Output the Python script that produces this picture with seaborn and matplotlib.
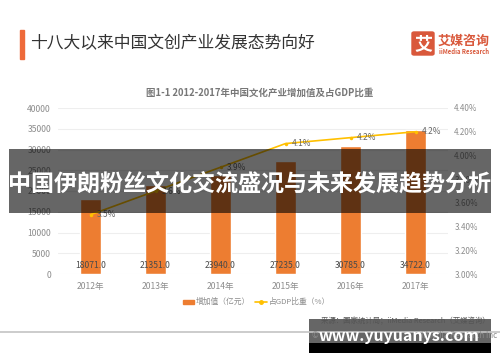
import matplotlib
matplotlib.use('Agg')
import matplotlib.pyplot as plt
import pandas as pd
import seaborn as sns
from matplotlib.patches import Rectangle, FancyBboxPatch

# ============ Dataset ============
years = ['2012年', '2013年', '2014年', '2015年', '2016年', '2017年']
added_value = [18071.0, 21351.0, 23940.0, 27235.0, 30785.0, 34722.0]
gdp_share = [3.5, 3.7, 3.9, 4.1, 4.15, 4.2]
share_labels = ['3.5%', '3.6%', '3.9%', '4.1%', '4.2%', '4.2%']
left_ticks = [0, 5000, 10000, 15000, 20000, 25000, 30000, 35000, 40000]
right_ticks = [3.0, 3.2, 3.4, 3.6, 3.8, 4.0, 4.2, 4.4]

W, H = 500, 362
BAR = '#ED7D31'
LINE = '#FFC000'
TICK = '#8c8c8c'

sns.set_theme(style='white')
plt.rcParams['font.family'] = ['Noto Sans CJK SC', 'DejaVu Sans']
plt.rcParams['axes.unicode_minus'] = False

df = pd.DataFrame({'year': years, 'value': added_value, 'share': gdp_share})

fig = plt.figure(figsize=(W / 100, H / 100), dpi=100, facecolor='white')
ax = fig.add_axes([58 / W, 1 - 274 / H, 390 / W, 166 / H])

# ============ Bars ============
sns.barplot(data=df, x='year', y='value', color=BAR, saturation=1, width=0.31, ax=ax)
ax.set_xlim(-0.5, 5.5)
ax.set_ylim(0, 40000)
ax.set_yticks(left_ticks)
ax.set_xlabel('')
ax.set_ylabel('')
ax.tick_params(axis='both', length=0, labelsize=6.2, labelcolor=TICK)
ax.tick_params(axis='x', pad=6)
ax.tick_params(axis='y', pad=5)
ax.grid(axis='y', color='#eeeeee', linewidth=0.8)
ax.set_axisbelow(True)
sns.despine(ax=ax, left=True, bottom=True)

for i, v in enumerate(added_value):
    ax.text(i, 1930, f'{v:.1f}', ha='center', va='center', fontsize=6.2, color='#4a4a4a')

# ============ Line on second axis ============
ax2 = ax.twinx()
sns.lineplot(x=list(range(len(years))), y=gdp_share, color=LINE, linewidth=1.2,
             marker='o', markersize=2.5, markeredgewidth=0, ax=ax2)
ax2.set_ylim(3.0, 4.4)
ax2.set_yticks(right_ticks)
ax2.set_yticklabels([f'{t:.2f}%' for t in right_ticks])
ax2.tick_params(axis='y', length=0, labelsize=5.8, labelcolor=TICK, pad=4.5)
ax2.grid(False)
sns.despine(ax=ax2, left=True, right=True, bottom=True)

for i, (s, lab) in enumerate(zip(gdp_share, share_labels)):
    ax2.text(i + 0.09, s, lab, ha='left', va='center', fontsize=6.0, color='#666666')

# ============ Legend ============
fig.add_artist(Rectangle((183 / W, 1 - 304 / H), 11 / W, 4 / H, color=BAR, transform=fig.transFigure))
fig.text(195.5 / W, 1 - 302 / H, '增加值（亿元）', fontsize=5.6, color=TICK, va='center')
fig.add_artist(plt.Line2D([255 / W, 261 / W, 267 / W], [1 - 302 / H] * 3, color=LINE, linewidth=1.2,
                          marker='o', markersize=2.5, markevery=[1], transform=fig.transFigure))
fig.text(268.5 / W, 1 - 302 / H, '占GDP比重（%）', fontsize=5.6, color=TICK, va='center')

# ============ Header ============
fig.add_artist(Rectangle((20 / W, 1 - 59 / H), 4 / W, 29 / H, color='#EE6A3A', transform=fig.transFigure))
fig.text(30.5 / W, 1 - 43.5 / H, '十八大以来中国文创产业发展态势向好', fontsize=12.1, color='#333333', va='center')
fig.text(260 / W, 1 - 93 / H, '图1-1 2012-2017年中国文化产业增加值及占GDP比重', fontsize=6.8,
         color='#777777', ha='center', va='center', fontweight='bold')

fig.add_artist(FancyBboxPatch((412 / W, 1 - 55 / H), 22 / W, 23 / H, boxstyle='round,pad=0,rounding_size=0.004',
                              color='#D9583B', transform=fig.transFigure))
fig.text(423 / W, 1 - 43.5 / H, '艾', fontsize=13, color='white', ha='center', va='center', fontweight='bold')
fig.text(437.5 / W, 1 - 41 / H, '艾媒咨询', fontsize=9.4, color='#D9583B', va='center', fontweight='bold')
fig.text(439 / W, 1 - 51 / H, 'iiMedia Research', fontsize=4.3, color='#D9583B', va='center', fontweight='bold')

# ============ Footer ============
fig.add_artist(plt.Line2D([0, 1], [1 - 332 / H] * 2, color='#c4c4c4', linewidth=1.2, transform=fig.transFigure))
fig.text(321 / W, 1 - 321 / H, '来源：国家统计局；iiMedia Research（艾媒咨询）', fontsize=5.35, color='#555555', va='center')
fig.text(312 / W, 1 - 336 / H, '©', fontsize=5.8, color='#8c8c8c', va='center')
fig.text(497 / W, 1 - 336 / H, 'iiMedia Research Inc', fontsize=5.8, color='#8c8c8c', ha='right', va='center')

# ============ Overlay banners ============
fig.add_artist(Rectangle((9 / W, 1 - 213 / H), 482 / W, 64 / H, color='black', alpha=0.6,
                         linewidth=0, transform=fig.transFigure))
fig.text(250 / W, 1 - 184.5 / H, '中国伊朗粉丝文化交流盛况与未来发展趋势分析', fontsize=16.6, color='white',
         ha='center', va='center', fontweight='bold')
fig.add_artist(Rectangle((309 / W, 1 - 343 / H), 182 / W, 24 / H, color='black', alpha=0.6,
                         linewidth=0, transform=fig.transFigure))
fig.add_artist(Rectangle((309 / W, 1 - 353 / H), 182 / W, 10 / H, color='black',
                         linewidth=0, transform=fig.transFigure))
fig.text(399 / W, 1 - 336.5 / H, 'www.yuyuanys.com', fontsize=11.5, color='white',
         ha='center', va='center', fontweight='bold')

fig.savefig('out.png', dpi=100)
